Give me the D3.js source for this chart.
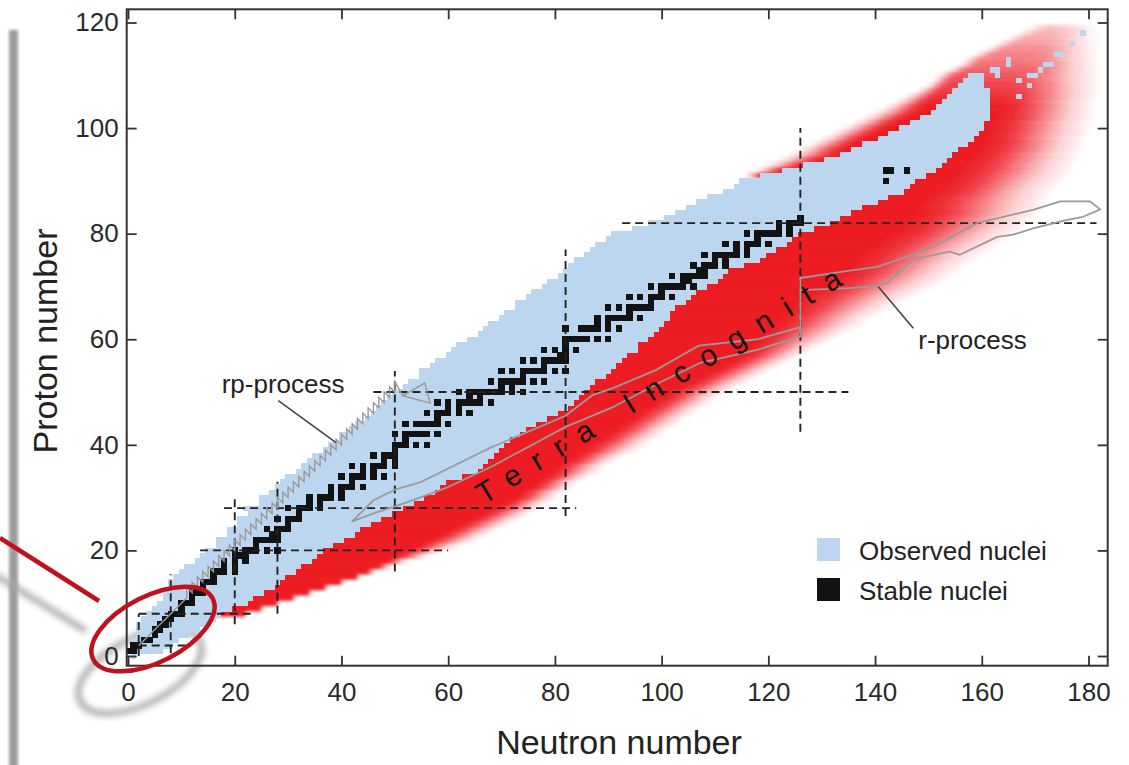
<!DOCTYPE html>
<html><head><meta charset="utf-8">
<script src="https://cdn.jsdelivr.net/npm/d3@7/dist/d3.min.js"></script>
<style>
body{margin:0;background:#fff;}
svg{display:block;font-family:"Liberation Sans",Arial,Helvetica,sans-serif;}
</style>
</head><body>
<svg id="c" width="1129" height="765"></svg>
<script>
// ---------------- DATA ----------------
const xTicks = [0,20,40,60,80,100,120,140,160,180];
const yTicks = [0,20,40,60,80,100,120];

// Observed nuclei: lightest / heaviest neutron number per proton number Z (index = Z, 0..110)
const obsMin = [1,0,1,1,2,2,2,3,4,5,
  6,7,7,8,8,9,10,11,13,14,
  15,17,17,19,19,21,21,23,22,25,
  25,27,28,29,30,32,33,34,35,37,
  38,40,40,42,43,45,46,47,48,49,
  50,52,53,55,55,57,58,60,61,62,
  64,66,67,68,70,71,73,73,75,76,
  78,79,81,82,83,84,86,87,88,90,
  91,95,98,101,103,105,107,109,112,114,
  115,119,123,127,131,134,136,138,141,143,
  145,147,149,151,152,153,154,155,156,157,
  158];
const obsMax = [1,6,8,9,11,13,15,16,17,19,
  22,23,25,27,28,29,31,32,34,35,
  36,38,40,42,43,45,47,49,51,53,
  55,57,58,59,62,65,66,67,68,69,
  70,71,73,74,76,78,80,82,83,84,
  85,86,87,89,90,91,92,93,95,95,
  97,98,99,100,101,101,102,104,105,106,
  108,110,111,112,115,118,119,121,123,124,
  125,128,131,133,135,137,140,142,145,146,
  147,149,151,152,153,154,155,157,158,159,
  160,160,161,161,161,161,161,161,160,160,
  160];
// isolated observed super-heavy nuclei [N, Z]
const extraN = [162,163,163,165,165,167,167,169,169,170,171,172,173,174,175,177,179];
const extraZ = [111,111,110,112,113,106,109,108,110,110,111,112,112,114,114,116,118];

// Stable nuclei: neutron numbers per Z (index = Z)
const stableN = [[],[0,1],[1,2],[3,4],[5],[5,6],[6,7],[7,8],[8,9,10],[10],
 [10,11,12],[12],[12,13,14],[14],[14,15,16],[16],[16,17,18,20],[18,20],[18,20,22],[20,21,22],
 [20,22,23,24,26,28],[24],[24,25,26,27,28],[27,28],[26,28,29,30],[30],[28,30,31,32],[32],[30,32,33,34,36],[34,36],
 [34,36,37,38,40],[38,40],[38,40,41,42,44],[42],[40,42,43,44,46,48],[44,46],[42,44,46,47,48,50],[48,50],[46,48,49,50],[50],
 [50,51,52,54,56],[52],[50,52,53,54,55,56,58],[],[52,54,55,56,57,58,60],[58],[56,58,59,60,62,64],[60,62],[58,60,62,63,64,65,66,68],[64,66],
 [62,64,65,66,67,68,69,70,72,74],[70,72],[68,70,71,72,73,74,76,78],[74],[70,72,74,75,76,77,78,80,82],[78],[74,76,78,79,80,81,82],[81,82],[78,80,82,84],[82],
 [82,83,84,85,86,88,90],[],[82,85,86,87,88,90,92],[88,90],[88,90,91,92,93,94,96],[94],[90,92,94,95,96,97,98],[98],[94,96,98,99,100,102],[100],
 [98,100,101,102,103,104,106],[104,105],[102,104,105,106,107,108],[107,108],[106,108,109,110,112],[110,112],[108,110,111,112,113,114,116],[114,116],[112,114,116,117,118,120],[118],
 [116,118,119,120,121,122,124],[122,124],[122,124,125,126],[126],[],[],[],[],[],[],
 [142],[],[142,143,146]];

// Predicted (unobserved) nuclei, neutron-rich side, Z = 8..119
const redZ0 = 8;
const nSolid = [21,24,27,30,33,36,39,42,44,46,
  48,50,52,54,56,58,60,62,64,66,
  68,70,72,73,75,76,78,79,80,82,
  83,85,86,88,89,91,92,94,95,97,
  98,100,101,103,105,107,109,111,113,115,
  116,117,118,119,120,121,122,123,124,125,
  126,128,130,131,133,134,135,136,137,138,
  140,141,143,144,145,146,148,147,148,149,
  151,152,153,154,155,156,157,158,159,160,
  160,160,161,161,162,162,163,163,164,164,
  165,165,166,167,168,168,169,170,170,171,
  172,173];
const nFade = [22,25,28,31,34,37,40,43,46,49,
  52,56,59,62,65,67,69,71,73,75,
  77,78,80,81,83,84,86,88,89,91,
  93,95,97,98,100,101,103,104,106,107,
  109,110,112,114,116,118,120,122,124,126,
  128,130,132,134,136,138,139,141,143,145,
  147,149,151,153,154,156,157,159,160,162,
  163,165,166,168,169,170,171,172,172,173,
  173,174,175,176,177,177,178,178,179,179,
  179,180,180,180,181,181,181,181,182,182,
  182,182,182,182,182,182,182,182,182,182,
  182,182];
// proton-rich side of the predicted region, Z = 91..119
const pZ0 = 91;
const pOut = [116,118,120,122,124,126,128,130,132,134,136,138,140,142,144,146,148,150,151,152,
  154,156,157,159,161,163,165,167,169];
const pSol = [120,124,128,131,134,135,137,139,141,143,145,147,149,150,151,152,153,154,155,156,
  158,160,161,163,165,167,169,171,173];
// intensity of the predicted region for Z = 100..119
const peakZ0 = 100;
const redPeak = [1,1,1,1,1,0.95,0.9,0.85,0.8,0.75,0.7,0.65,0.6,0.55,0.5,0.45,0.4,0.35,0.3,0.25];

// Magic numbers (dashed lines)
const magicHZ = [2,8,20,28,50,82];
const magicHFrom = [2,2,13.5,18,46,92.6];
const magicHTo = [11,23,60,84,135,181.5];
const magicVN = [2,8,20,28,50,82,126];
const magicVFrom = [0,0.5,6,8,16,26.5,42.5];
const magicVTo = [8,15.5,30.5,33,54,77,100];

// r-process band outline [N, Z]
const rN = [42,46,50,55,62,68,75,82,87,91,99,107,118,126,126,134,140.4,147.9,150.9,159.1,169.6,174.7,180.3,182.2,
  179,176,169.6,165.9,162.9,155.9,154,148.4,147.1,142.2,139.6,135.3,126,126,117.9,107.2,100,91,82,75,68,60,52,46];
const rZ = [25.5,29.5,31.5,33,36.5,39.5,42.5,45.5,49.4,50.8,54.2,58.8,60,62.3,71.6,72.8,73.7,76.3,77.5,82,84.5,86.1,86.1,84.6,
  83.2,82.6,81,79.8,79.4,76,76.6,75.4,75,70.6,70,69.7,69.3,60.5,58,55.5,52,47.2,43.4,39.6,35.8,32,29,27];

// rp-process path: straight start, then (p,gamma)/beta+ sawtooth waiting points
const rpStartN = [2], rpStartZ = [2];
const rpN = [11,12,13,14,15,16,17,18,19,20,21,22,23,24,25,26,27,28,29,30,31,32,33,34,35,36,37,38,39,40,41,42,43,44,45,46,47,48,49,50];
const rpZ = [11,12,13,14,15,16,17,18,19,20,21,22,23,24,25,26,27,28,29,30,31,32,33,34,35,36,37,38,39,40,41,42,43,44,45,46,47,48,49,50];
const rpLoopN = [51.5,55.6,56.6];
const rpLoopZ = [49.3,51.7,47.9];

// ---------------- DRAWING ----------------
const P = {l:126.7, r:1107.7, t:9.3, b:665.7};
const x = d3.scaleLinear().domain([-0.25,183.6]).range([P.l,P.r]);
const y = d3.scaleLinear().domain([-1.84,122.5]).range([P.b,P.t]);
const RED = "#ec1c24", BLUE = "#bbd6ee", BLACK = "#121212";

const svg = d3.select("#c");
const defs = svg.append("defs");
function blur(id, s){
  const f = defs.append("filter").attr("id", id)
    .attr("x","-20%").attr("y","-20%").attr("width","140%").attr("height","140%");
  f.append("feGaussianBlur").attr("stdDeviation", s);
}
blur("bRed", 1.6); blur("bShadow", 3); blur("bBar", 1.6);
defs.append("clipPath").attr("id","clip").append("rect")
  .attr("x",P.l).attr("y",P.t).attr("width",P.r-P.l).attr("height",P.b-P.t);

// slide decorations (behind)
svg.append("rect").attr("x",9).attr("y",30).attr("width",9).attr("height",745)
  .attr("fill","#9c9c9c").attr("filter","url(#bBar)");
svg.append("line").attr("x1",-5).attr("y1",575).attr("x2",86).attr("y2",631)
  .attr("stroke","#a8a8a8").attr("stroke-width",6).attr("filter","url(#bShadow)");
svg.append("ellipse").attr("cx",140).attr("cy",671).attr("rx",67).attr("ry",33)
  .attr("transform","rotate(-27,140,671)").attr("fill","none")
  .attr("stroke","#a8a8a8").attr("stroke-width",6).attr("filter","url(#bShadow)");

const g = svg.append("g").attr("clip-path","url(#clip)");

// ---- predicted region (red, fading) ----
const rows = [];
for (let i = 0; i < nSolid.length; i++) {
  const Z = redZ0 + i;
  const pi = Z - pZ0;
  const hasP = pi >= 0 && pi < pOut.length;
  const lo = hasP ? pOut[pi] : obsMax[Z] - 3;
  const sLo = hasP ? pSol[pi] : lo;
  const pk = Z >= peakZ0 ? redPeak[Z - peakZ0] : 1;
  rows.push({Z, lo, sLo, sHi: nSolid[i], hi: nFade[i], pk});
}
const prof = [[0,1],[0.2,0.9],[0.4,0.66],[0.6,0.36],[0.8,0.13],[1,0]];
rows.forEach(r => {
  const x0 = x(r.lo - 0.5), x1 = x(r.hi + 0.5), L = x1 - x0;
  const stops = [];
  if (r.sLo > r.lo) {
    const a = x(r.sLo - 0.5), b = x(r.lo - 0.5);
    prof.slice().reverse().forEach(([f,o]) => stops.push([(a - f*(a-b) - x0)/L, o*r.pk]));
  } else stops.push([0, r.pk]);
  const c = x(r.sHi + 0.5);
  prof.forEach(([f,o]) => stops.push([(c + f*(x1-c) - x0)/L, o*r.pk]));
  const gr = defs.append("linearGradient").attr("id","rg"+r.Z)
    .attr("gradientUnits","userSpaceOnUse").attr("x1",x0).attr("x2",x1).attr("y1",0).attr("y2",0);
  let last = 0;
  stops.forEach(([off,o]) => {
    off = Math.max(last, Math.min(1, off)); last = off;
    gr.append("stop").attr("offset",off).attr("stop-color",RED).attr("stop-opacity",o);
  });
});
g.append("g").attr("filter","url(#bRed)")
  .selectAll("rect").data(rows).join("rect")
  .attr("x", d => x(d.lo - 0.5)).attr("width", d => x(d.hi + 0.5) - x(d.lo - 0.5))
  .attr("y", d => y(d.Z + 0.5) - 0.3).attr("height", d => y(d.Z - 0.5) - y(d.Z + 0.5) + 0.6)
  .attr("fill", d => "url(#rg" + d.Z + ")");

// ---- observed nuclei (blue) ----
const obsRows = obsMin.map((a, Z) => ({Z, a, b: obsMax[Z]}));
g.append("g").attr("shape-rendering","crispEdges")
  .selectAll("rect").data(obsRows).join("rect")
  .attr("x", d => x(d.a - 0.5)).attr("width", d => x(d.b + 0.5) - x(d.a - 0.5))
  .attr("y", d => y(d.Z + 0.5)).attr("height", d => y(d.Z - 0.5) - y(d.Z + 0.5) + 0.5)
  .attr("fill", BLUE);
g.append("g").attr("shape-rendering","crispEdges")
  .selectAll("rect").data(extraN.map((n,i)=>({N:n, Z:extraZ[i]}))).join("rect")
  .attr("x", d => x(d.N - 0.5)).attr("width", d => x(d.N + 0.5) - x(d.N - 0.5))
  .attr("y", d => y(d.Z + 0.5)).attr("height", d => y(d.Z - 0.5) - y(d.Z + 0.5))
  .attr("fill", BLUE);

// ---- stable nuclei (black), marker slightly larger than a cell ----
const stable = [];
stableN.forEach((ns, Z) => ns.forEach(N => stable.push({N, Z})));
const S = 6.4;
g.append("g").attr("shape-rendering","crispEdges")
  .selectAll("rect").data(stable).join("rect")
  .attr("x", d => x(d.N) - S/2).attr("width", S)
  .attr("y", d => y(d.Z) - S/2).attr("height", S)
  .attr("fill", BLACK);

// ---- magic number dashed lines ----
const dash = g.append("g").attr("stroke","#222").attr("stroke-width",1.9)
  .attr("stroke-dasharray","8,5").attr("fill","none");
dash.selectAll("line.h").data(magicHZ.map((z,i)=>({z, a:magicHFrom[i], b:magicHTo[i]}))).join("line")
  .attr("class","h").attr("x1", d => x(d.a)).attr("x2", d => x(d.b))
  .attr("y1", d => y(d.z)).attr("y2", d => y(d.z));
dash.selectAll("line.v").data(magicVN.map((n,i)=>({n, a:magicVFrom[i], b:magicVTo[i]}))).join("line")
  .attr("class","v").attr("x1", d => x(d.n)).attr("x2", d => x(d.n))
  .attr("y1", d => y(d.a)).attr("y2", d => y(d.b));

// ---- r-process band ----
g.append("path")
  .attr("d", d3.line().x(d => x(d[0])).y(d => y(d[1])).curve(d3.curveLinearClosed)(rN.map((n,i)=>[n, rZ[i]])))
  .attr("fill","none").attr("stroke","#9a9a9a").attr("stroke-width",1.8).attr("stroke-linejoin","round");

// ---- rp-process path ----
const rpPts = rpStartN.map((n,i)=>[n, rpStartZ[i]]);
rpN.forEach((n,i) => { rpPts.push([n, rpZ[i]]); rpPts.push([n, rpZ[i] + 2]); });
rpPts.push([rpLoopN[0], rpLoopZ[0]]);
g.append("path")
  .attr("d", d3.line().x(d => x(d[0])).y(d => y(d[1]))(rpPts))
  .attr("fill","none").attr("stroke","#9a9a9a").attr("stroke-width",1.4).attr("stroke-linejoin","miter");
g.append("path")
  .attr("d", d3.line().x(d => x(d[0])).y(d => y(d[1])).curve(d3.curveLinearClosed)(rpLoopN.map((n,i)=>[n, rpLoopZ[i]])))
  .attr("fill","none").attr("stroke","#9a9a9a").attr("stroke-width",1.4);

// ---- Terra Incognita ----
svg.append("text").attr("transform","translate(483.8,504.9) rotate(-31.5)")
  .attr("font-size",30).attr("letter-spacing",16).attr("fill","#151515")
  .text("Terra Incognita");

// ---- annotations ----
svg.append("text").attr("x",221.7).attr("y",393.3).attr("font-size",26).attr("fill","#222").text("rp-process");
svg.append("line").attr("x1",278.3).attr("y1",400.7).attr("x2",336).attr("y2",442.7)
  .attr("stroke","#444").attr("stroke-width",1.6);
svg.append("text").attr("x",918.3).attr("y",349.3).attr("font-size",26).attr("fill","#222").text("r-process");
svg.append("line").attr("x1",878.3).attr("y1",286.7).attr("x2",913.3).attr("y2",328.3)
  .attr("stroke","#444").attr("stroke-width",1.6);

// ---- legend ----
const legLabels = ["Observed nuclei","Stable nuclei"];
const legColors = [BLUE, BLACK];
const leg = svg.append("g").selectAll("g").data(legLabels).join("g")
  .attr("transform", (d,i) => `translate(817,${538 + i*40})`);
leg.append("rect").attr("width",23).attr("height",23).attr("fill",(d,i)=>legColors[i]);
leg.append("text").attr("x",42).attr("y",22).attr("font-size",26).attr("fill","#222").text(d=>d);

// ---- axes ----
function styleAxis(sel){
  sel.select(".domain").remove();
  sel.selectAll(".tick line").attr("stroke","#333").attr("stroke-width",1.8);
  sel.selectAll(".tick text").attr("font-size",26).attr("fill","#2a2a2a")
    .attr("font-family",'"Liberation Sans",Arial,sans-serif');
}
svg.append("g").attr("transform",`translate(0,${P.b})`)
  .call(d3.axisBottom(x).tickValues(xTicks).tickSizeInner(-10).tickSizeOuter(0).tickPadding(17)).call(styleAxis);
svg.append("g").attr("transform",`translate(0,${P.t})`)
  .call(d3.axisTop(x).tickValues(xTicks).tickSizeInner(-10).tickSizeOuter(0).tickFormat("")).call(styleAxis);
svg.append("g").attr("transform",`translate(${P.l},0)`)
  .call(d3.axisLeft(y).tickValues(yTicks).tickSizeInner(-10).tickSizeOuter(0).tickPadding(8)).call(styleAxis);
svg.append("g").attr("transform",`translate(${P.r},0)`)
  .call(d3.axisRight(y).tickValues(yTicks).tickSizeInner(-10).tickSizeOuter(0).tickFormat("")).call(styleAxis);
svg.append("rect").attr("x",P.l).attr("y",P.t).attr("width",P.r-P.l).attr("height",P.b-P.t)
  .attr("fill","none").attr("stroke","#333").attr("stroke-width",2);

svg.append("text").attr("x",619).attr("y",754).attr("text-anchor","middle")
  .attr("font-size",34).attr("fill","#222").text("Neutron number");
svg.append("text").attr("transform","translate(57,341) rotate(-90)").attr("text-anchor","middle")
  .attr("font-size",34).attr("fill","#222").text("Proton number");

// ---- highlight ellipse (front) ----
svg.append("line").attr("x1",0).attr("y1",538).attr("x2",99).attr("y2",601)
  .attr("stroke","#c0121c").attr("stroke-width",4.5);
svg.append("ellipse").attr("cx",153).attr("cy",629).attr("rx",67).attr("ry",33)
  .attr("transform","rotate(-27,153,629)").attr("fill","none")
  .attr("stroke","#c0121c").attr("stroke-width",4.5);
</script>
</body></html>
